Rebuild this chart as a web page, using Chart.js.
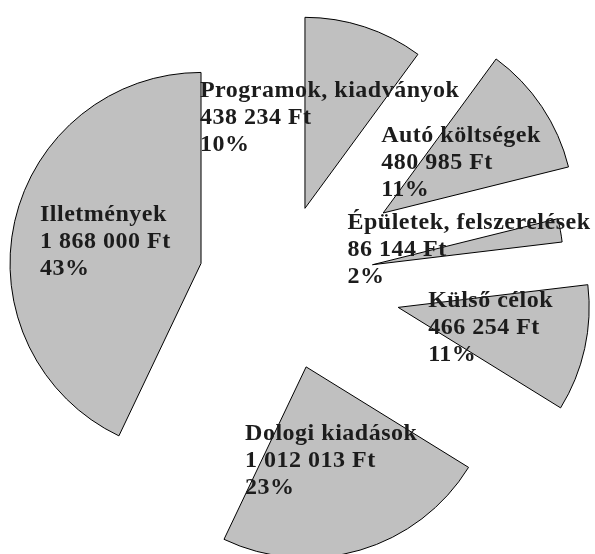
<!DOCTYPE html>
<html>
<head>
<meta charset="utf-8">
<script src="https://cdn.jsdelivr.net/npm/chart.js@4.4.1/dist/chart.umd.min.js"></script>
<style>
    html, body { margin: 0; padding: 0; background: #fff; }
    #wrap { width: 595px; height: 554px; position: relative; }
</style>
</head>
<body>
<div id="wrap"><canvas id="pie"></canvas></div>
<script>
// data, clockwise from 12 o'clock
const categories = ['Programok, kiadványok', 'Autó költségek', 'Épületek, felszerelések', 'Külső célok', 'Dologi kiadások', 'Illetmények'];
const amounts = [438234, 480985, 86144, 466254, 1012013, 1868000];
const currency = 'Ft';

// how far each slice is pulled out of the centre (px)
const explodePx = [77, 123, 93, 120, 89, 82];
// label position relative to the slice tip (left, first baseline)
const labelShift = [[-105, -111], [-2, -71], [-25, -36], [30, 0], [-61, 73], [-161, -42]];

const total = amounts.reduce((a, b) => a + b, 0);

function formatAmount(v) {
    return String(v).replace(/\B(?=(\d{3})+(?!\d))/g, ' ') + ' ' + currency;
}

// push slices outwards along their bisector
const explodePlugin = {
    id: 'explode',
    afterDatasetsUpdate(chart) {
        const meta = chart.getDatasetMeta(0);
        meta.data.forEach((arc, i) => {
            const mid = (arc.startAngle + arc.endAngle) / 2;
            arc.x += Math.cos(mid) * explodePx[i];
            arc.y += Math.sin(mid) * explodePx[i];
        });
    }
};

const labelPlugin = {
    id: 'sliceLabels',
    afterDatasetsDraw(chart) {
        const ctx = chart.ctx;
        const meta = chart.getDatasetMeta(0);
        ctx.save();
        ctx.font = 'bold 24px "Liberation Serif", "Times New Roman", serif';
        ctx.letterSpacing = '0.5px';
        ctx.fillStyle = '#1c1c1c';
        ctx.textAlign = 'left';
        ctx.textBaseline = 'alphabetic';
        meta.data.forEach((arc, i) => {
            const lines = [
                categories[i],
                formatAmount(amounts[i]),
                Math.round(amounts[i] / total * 100) + '%'
            ];
            const x = arc.x + labelShift[i][0];
            const y = arc.y + labelShift[i][1];
            lines.forEach((t, k) => ctx.fillText(t, x, y + k * 27));
        });
        ctx.restore();
    }
};

new Chart(document.getElementById('pie'), {
    type: 'pie',
    data: {
        labels: categories,
        datasets: [{
            data: amounts,
            backgroundColor: '#c0c0c0',
            borderColor: '#000',
            borderWidth: 1,
            borderJoinStyle: 'miter',
            radius: 191,
            clip: false
        }]
    },
    options: {
        responsive: true,
        maintainAspectRatio: false,
        animation: false,
        events: [],
        layout: { padding: { left: 0, right: 33, top: 9, bottom: 0 } },
        plugins: {
            legend: { display: false },
            tooltip: { enabled: false }
        }
    },
    plugins: [explodePlugin, labelPlugin]
});
</script>
</body>
</html>
